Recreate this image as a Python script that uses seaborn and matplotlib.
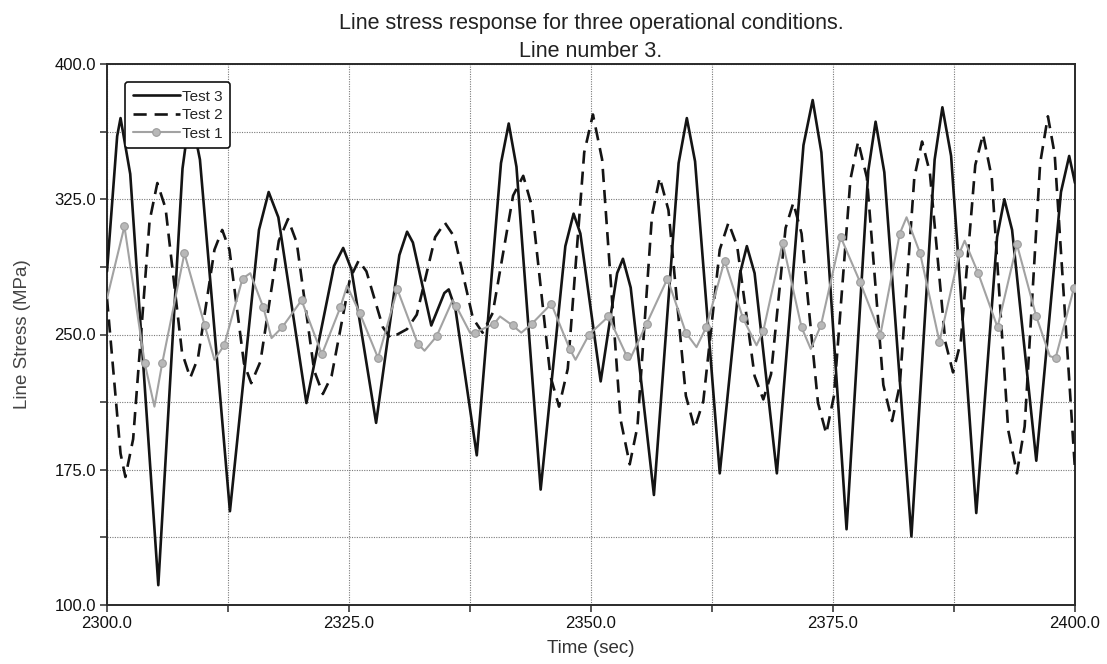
import matplotlib
matplotlib.use("Agg")
import matplotlib.pyplot as plt
import numpy as np
import pandas as pd
import seaborn as sns
from matplotlib.ticker import MultipleLocator, FixedLocator, FixedFormatter

# ---------------- data ----------------
series_names = ["Test 3", "Test 2", "Test 1"]

# Test 3 (solid black): turning points and shoulder readings
t3_time = [2300.0, 2301.05, 2301.4, 2302.4, 2305.3, 2307.8, 2308.6, 2309.6, 2312.7,
           2315.7, 2316.7, 2317.7, 2320.6, 2323.45, 2324.4, 2325.25, 2327.8,
           2330.2, 2331.0, 2331.6, 2333.5, 2334.85, 2335.3, 2336.0, 2338.2,
           2340.7, 2341.5, 2342.3, 2344.8, 2347.35, 2348.2, 2348.9, 2351.0,
           2352.7, 2353.3, 2354.1, 2356.5, 2359.05, 2359.9, 2360.75, 2363.3,
           2365.4, 2366.1, 2366.9, 2369.2, 2371.95, 2372.9, 2373.8, 2376.4,
           2378.65, 2379.4, 2380.3, 2383.1, 2385.5, 2386.3, 2387.2, 2389.8,
           2391.95, 2392.7, 2393.5, 2396.0, 2398.55, 2399.4, 2400.0]
t3_value = [285, 360, 370, 339, 111, 342, 374, 347, 152,
            308, 329, 315, 212, 288, 298, 286, 201,
            294, 307, 301, 255, 273, 275, 264, 183,
            345, 367, 343, 164, 299, 317, 306, 224,
            284, 292, 276, 161, 345, 370, 346, 173,
            284, 299, 284, 173, 355, 380, 351, 142,
            341, 368, 340, 138, 347, 376, 349, 151,
            304, 325, 308, 180, 329, 349, 334]

# Test 2 (dashed black): turning points and shoulder readings
t2_time = [2300.0, 2301.4, 2301.9, 2302.7, 2304.4, 2305.2, 2306.05, 2307.75, 2308.6,
           2309.4, 2311.1, 2311.9, 2312.65, 2314.15, 2314.9, 2315.85, 2317.75,
           2318.7, 2319.6, 2321.4, 2322.3, 2323.2, 2325.1, 2326.0, 2326.8,
           2328.5, 2329.3, 2331.0, 2332.0, 2333.9, 2334.9, 2335.9, 2337.8,
           2338.8, 2339.85, 2341.95, 2343.0, 2343.9, 2345.8, 2346.7, 2347.6,
           2349.3, 2350.2, 2351.15, 2353.05, 2354.0, 2354.8, 2356.3, 2357.1,
           2358.0, 2359.8, 2360.7, 2361.6, 2363.3, 2364.2, 2365.1, 2366.9,
           2367.8, 2368.6, 2370.1, 2370.9, 2371.75, 2373.45, 2374.3, 2375.1,
           2376.8, 2377.6, 2378.5, 2380.2, 2381.1, 2381.9, 2383.4, 2384.2,
           2385.0, 2386.6, 2387.4, 2388.2, 2389.7, 2390.5, 2391.4, 2393.1,
           2394.0, 2394.8, 2396.4, 2397.2, 2397.9, 2400.0]
t2_value = [270, 184, 171, 192, 313, 334, 320, 240, 226,
            237, 297, 308, 297, 234, 223, 235, 302,
            314, 301, 230, 217, 227, 281, 291, 285,
            254, 248, 253, 261, 304, 312, 304, 259,
            251, 262, 327, 338, 321, 227, 210, 231,
            351, 372, 347, 203, 178, 199, 316, 337,
            319, 216, 198, 213, 297, 312, 299, 227,
            214, 228, 309, 323, 306, 212, 195, 216,
            336, 357, 337, 222, 202, 222, 337, 357,
            340, 246, 229, 246, 344, 361, 337, 197,
            173, 199, 345, 371, 350, 175]

# Test 1 (grey with circles): readings, sampled == 1 where a marker is drawn
t1_time = [2300.0, 2301.8, 2303.9, 2304.9, 2305.7, 2308.0, 2310.1, 2311.1, 2312.1,
           2314.0, 2314.8, 2316.15, 2317.0, 2318.1, 2320.1, 2322.2, 2324.1, 2324.8,
           2326.1, 2328.0, 2330.0, 2332.1, 2332.8, 2334.05, 2335.7, 2336.05, 2337.5,
           2338.0, 2340.0, 2340.6, 2341.9, 2342.8, 2343.9, 2345.9, 2347.8, 2348.4,
           2349.8, 2351.8, 2353.7, 2354.0, 2355.75, 2357.9, 2359.8, 2360.9, 2361.9,
           2363.8, 2365.7, 2367.1, 2367.8, 2369.8, 2371.75, 2372.7, 2373.75, 2375.8,
           2377.8, 2379.9, 2381.9, 2382.6, 2384.0, 2386.0, 2388.05, 2388.6, 2390.0,
           2392.0, 2394.0, 2396.0, 2397.4, 2398.0, 2399.9, 2400.0]
t1_value = [270, 310, 234, 210, 234, 295, 255, 236, 244,
            281, 284, 265, 248, 254, 269, 239, 265, 277,
            262, 237, 275, 245, 241, 249, 269, 266, 251,
            251, 256, 260, 255, 251, 256, 267, 242, 236,
            250, 260, 238, 236, 256, 281, 251, 243, 254,
            291, 259, 244, 252, 301, 254, 242, 255, 304,
            279, 250, 306, 315, 295, 246, 295, 302, 284,
            254, 300, 260, 238, 237, 276, 277]
t1_sampled = [0, 1, 1, 0, 1, 1, 1, 0, 1,
              1, 0, 1, 0, 1, 1, 1, 1, 0,
              1, 1, 1, 1, 0, 1, 0, 1, 0,
              1, 1, 0, 1, 0, 1, 1, 1, 0,
              1, 1, 1, 0, 1, 1, 1, 0, 1,
              1, 1, 0, 1, 1, 1, 0, 1, 1,
              1, 1, 1, 0, 1, 1, 1, 0, 1,
              1, 1, 1, 0, 1, 1, 0]

title_lines = ["Line stress response for three operational conditions.", "Line number 3."]
x_label = "Time (sec)"
y_label = "Line Stress (MPa)"
x_tick_values = [2300.0, 2325.0, 2350.0, 2375.0, 2400.0]
x_tick_labels = ["2300.0", "2325.0", "2350.0", "2375.0", "2400.0"]
y_tick_values = [100.0, 175.0, 250.0, 325.0, 400.0]
y_tick_labels = ["100.0", "175.0", "250.0", "325.0", "400.0"]

# ---------------- figure ----------------
sns.set_style("white")
plt.rcParams["font.family"] = ["Liberation Sans", "DejaVu Sans"]

W, H = 1107, 664
fig = plt.figure(figsize=(W / 100, H / 100), dpi=100)
ax = fig.add_axes([107 / W, 1 - 605 / H, 968 / W, 541 / H])

df3 = pd.DataFrame({"time": t3_time, "stress": t3_value})
df2 = pd.DataFrame({"time": t2_time, "stress": t2_value})
df1 = pd.DataFrame({"time": t1_time, "stress": t1_value})
mark_idx = [i for i, s in enumerate(t1_sampled) if s]

sns.lineplot(data=df3, x="time", y="stress", ax=ax, color="#141414", lw=1.9,
             label=series_names[0], estimator=None, sort=False, zorder=3)
sns.lineplot(data=df2, x="time", y="stress", ax=ax, color="#141414", lw=1.9,
             linestyle=(0, (5, 3)), label=series_names[1], estimator=None,
             sort=False, zorder=3)
sns.lineplot(data=df1, x="time", y="stress", ax=ax, color="#a2a2a2", lw=1.5,
             marker="o", markersize=5.5, markerfacecolor="#b8b8b8",
             markeredgecolor="#9c9c9c", markeredgewidth=0.8, markevery=mark_idx,
             label=series_names[2], estimator=None, sort=False, zorder=4)

ax.set_xlim(x_tick_values[0], x_tick_values[-1])
ax.set_ylim(y_tick_values[0], y_tick_values[-1])
ax.xaxis.set_major_locator(FixedLocator(x_tick_values))
ax.xaxis.set_major_formatter(FixedFormatter(x_tick_labels))
ax.yaxis.set_major_locator(FixedLocator(y_tick_values))
ax.yaxis.set_major_formatter(FixedFormatter(y_tick_labels))
x_minor = [(a + b) / 2 for a, b in zip(x_tick_values[:-1], x_tick_values[1:])]
y_minor = [(a + b) / 2 for a, b in zip(y_tick_values[:-1], y_tick_values[1:])]
ax.xaxis.set_minor_locator(FixedLocator(x_minor))
ax.yaxis.set_minor_locator(FixedLocator(y_minor))

ax.grid(which="both", color="#7a7a7a", linestyle=(0, (1, 1.2)), lw=0.8)
ax.set_axisbelow(True)
for sp in ax.spines.values():
    sp.set_color("#2a2a2a")
    sp.set_linewidth(1.4)
ax.tick_params(which="both", bottom=True, left=True, direction="out",
               length=5, width=1.1, color="#2a2a2a", labelsize=12,
               labelcolor="#111111", pad=3)

ax.set_xlabel(x_label, fontsize=13.5, color="#333333")
ax.set_ylabel(y_label, fontsize=13.5, color="#444444")
ax.xaxis.set_label_coords(0.5, -0.064)
ax.yaxis.set_label_coords(-0.079, 0.5)

fig.text(591 / W, 1 - 29 / H, title_lines[0], ha="center", va="baseline",
         fontsize=15.5, color="#222222")
fig.text(591 / W, 1 - 57 / H, title_lines[1], ha="center", va="baseline",
         fontsize=15.5, color="#222222")

leg = ax.legend(loc="upper left", bbox_to_anchor=(18 / 968, 1 - 18 / 541),
                borderaxespad=0, fontsize=11, handlelength=3.1,
                handletextpad=0.1, borderpad=0.5, labelspacing=0.3,
                fancybox=True, framealpha=1, edgecolor="#111111")
leg.get_frame().set_linewidth(1.2)

fig.savefig("out.png", dpi=100)
